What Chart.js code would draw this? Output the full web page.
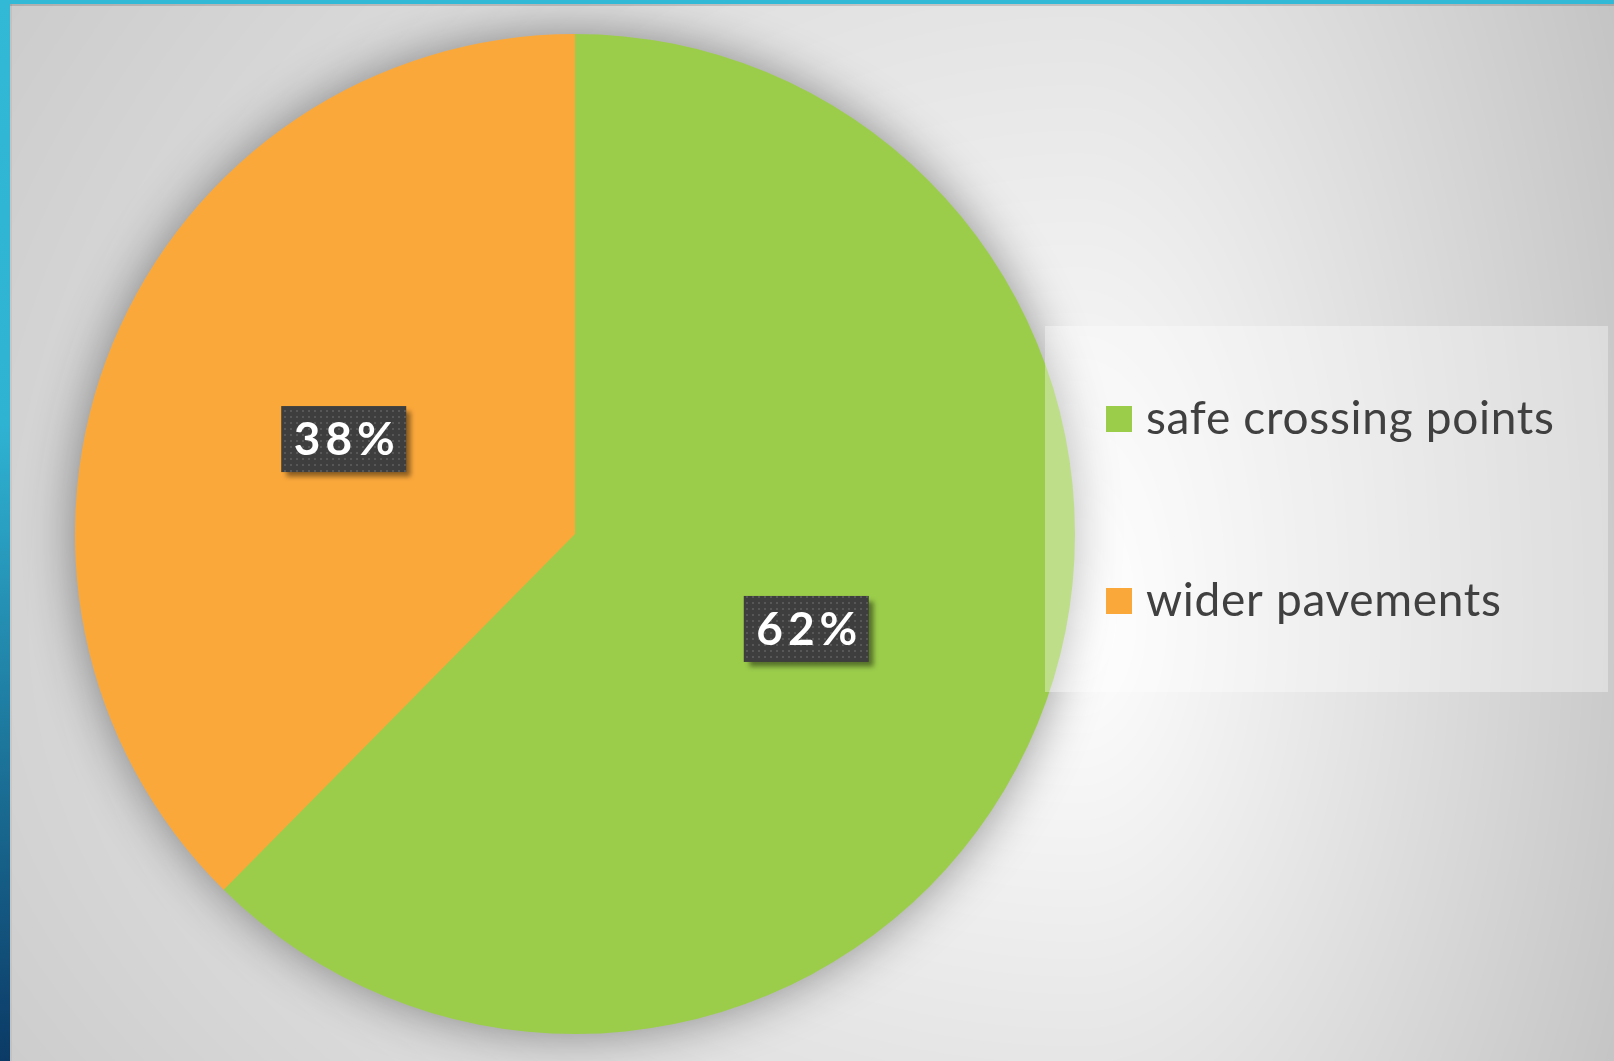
<!DOCTYPE html>
<html lang="en">
<head>
<meta charset="utf-8">
<title>Pie chart</title>
<script src="https://cdn.jsdelivr.net/npm/chart.js@4.4.1/dist/chart.umd.min.js"></script>
<style>
  html, body { margin: 0; padding: 0; overflow: hidden; background: #c8c8c8; }
  #sahne { position: relative; width: 1614px; height: 1061px; }
  canvas { position: absolute; left: 0; top: 0; }
  #solSerit { position: absolute; left: 0; top: 0; width: 10px; height: 1061px;
    background: linear-gradient(#31b9d6 0%, #2fb3d3 40%, #0b3a66 100%); }
  #solGolge { position: absolute; left: 10px; top: 0; width: 2px; height: 1061px; background: rgba(0,0,0,0.05); }
  #ustSerit { position: absolute; left: 0; top: 0; width: 1614px; height: 4px; background: #31b9d6; }
  #ustGolge { position: absolute; left: 10px; top: 4px; width: 1604px; height: 2px; background: rgba(0,0,0,0.14); }
</style>
</head>
<body>
<div id="sahne">
  <canvas id="arkaPlan" width="1614" height="1061"></canvas>
  <canvas id="grafik" width="1614" height="1061"></canvas>
  <div id="solGolge"></div>
  <div id="ustGolge"></div>
  <div id="solSerit"></div>
  <div id="ustSerit"></div>
</div>
<script>
// Veriler
const kategoriler = ["safe crossing points", "wider pavements"];
const degerler = [62.4, 37.6];
const renkler = ["#9bcd4b", "#fba83b"];

// Arka plan: sağ ortada beyaz, kenarlara doğru gri
function arkaPlanCiz() {
  const c = document.getElementById("arkaPlan");
  const ctx = c.getContext("2d");
  const w = c.width, h = c.height;
  const img = ctx.createImageData(w, h);
  const mx = 1080, my = 620;
  for (let y = 0; y < h; y++) {
    const dy = y < my ? (my - y) / 1390 : (y - my) / 1060;
    for (let x = 0; x < w; x++) {
      const dx = x < mx ? (mx - x) / 1510 : (x - mx) / 620;
      const t = Math.min(1, Math.sqrt(dx * dx + dy * dy));
      const v = Math.round(255 - 61 * t);
      const k = (y * w + x) * 4;
      img.data[k] = v; img.data[k + 1] = v; img.data[k + 2] = v; img.data[k + 3] = 255;
    }
  }
  ctx.putImageData(img, 0, 0);
}
arkaPlanCiz();

// Etiket kutuları için noktalı desen
const desenTuvali = document.createElement("canvas");
desenTuvali.width = 6;
desenTuvali.height = 6;
const desenCtx = desenTuvali.getContext("2d");
desenCtx.fillStyle = "#575757";
desenCtx.fillRect(2, 2, 2, 2);

// Pastanın arkasındaki gölge
const golgeEklentisi = {
  id: "golge",
  beforeDatasetsDraw(chart) {
    const arc = chart.getDatasetMeta(0).data[0];
    const ctx = chart.ctx;
    ctx.save();
    ctx.shadowColor = "rgba(0,0,0,0.42)";
    ctx.shadowBlur = 50;
    ctx.fillStyle = renkler[0];
    ctx.beginPath();
    ctx.arc(arc.x, arc.y, arc.outerRadius - 1, 0, Math.PI * 2);
    ctx.fill();
    ctx.restore();
  },
};

// Yüzde etiketleri
const etiketEklentisi = {
  id: "etiketler",
  afterDatasetsDraw(chart) {
    const ctx = chart.ctx;
    const veri = chart.data.datasets[0].data;
    const toplam = veri.reduce((a, b) => a + b, 0);
    const desen = ctx.createPattern(desenTuvali, "repeat");
    chart.getDatasetMeta(0).data.forEach((arc, i) => {
      const { x, y } = arc.tooltipPosition();
      const metin = Math.round((veri[i] / toplam) * 100) + "%";
      const w = 125, h = 66;
      ctx.save();
      ctx.shadowColor = "rgba(0,0,0,0.45)";
      ctx.shadowBlur = 5;
      ctx.shadowOffsetX = 5;
      ctx.shadowOffsetY = 5;
      ctx.fillStyle = "#3e3e3e";
      ctx.fillRect(x - w / 2, y - h / 2, w, h);
      ctx.restore();

      ctx.save();
      ctx.fillStyle = desen;
      ctx.fillRect(x - w / 2, y - h / 2, w, h);
      ctx.fillStyle = "#ffffff";
      ctx.font = "bold 46px Lato";
      ctx.letterSpacing = "5px";
      ctx.textAlign = "center";
      ctx.textBaseline = "alphabetic";
      ctx.fillText(metin, x + 3, y + 16);
      ctx.restore();
    });
  },
};

// Açıklama kutusu (pastanın üstüne yarı saydam)
const aciklamaEklentisi = {
  id: "aciklama",
  afterDraw(chart) {
    const ctx = chart.ctx;
    const renk = chart.data.datasets[0].backgroundColor;
    ctx.save();
    ctx.fillStyle = "rgba(255,255,255,0.35)";
    ctx.fillRect(1045, 326, 563, 366);
    ctx.font = "46px Lato";
    ctx.letterSpacing = "0.7px";
    ctx.textBaseline = "alphabetic";
    chart.data.labels.forEach((etiket, i) => {
      const satirY = 434 + i * 182;
      ctx.fillStyle = renk[i];
      ctx.fillRect(1106, satirY - 28, 26, 26);
      ctx.fillStyle = "#404040";
      ctx.fillText(etiket, 1146, satirY);
    });
    ctx.restore();
  },
};

new Chart(document.getElementById("grafik"), {
  type: "pie",
  data: {
    labels: kategoriler,
    datasets: [
      {
        data: degerler,
        backgroundColor: renkler,
        borderWidth: 0,
        hoverOffset: 0,
      },
    ],
  },
  options: {
    responsive: false,
    animation: false,
    events: [],
    layout: { padding: { left: 75, top: 34, right: 539, bottom: 27 } },
    plugins: {
      legend: { display: false },
      tooltip: { enabled: false },
    },
  },
  plugins: [golgeEklentisi, etiketEklentisi, aciklamaEklentisi],
});
</script>
</body>
</html>
